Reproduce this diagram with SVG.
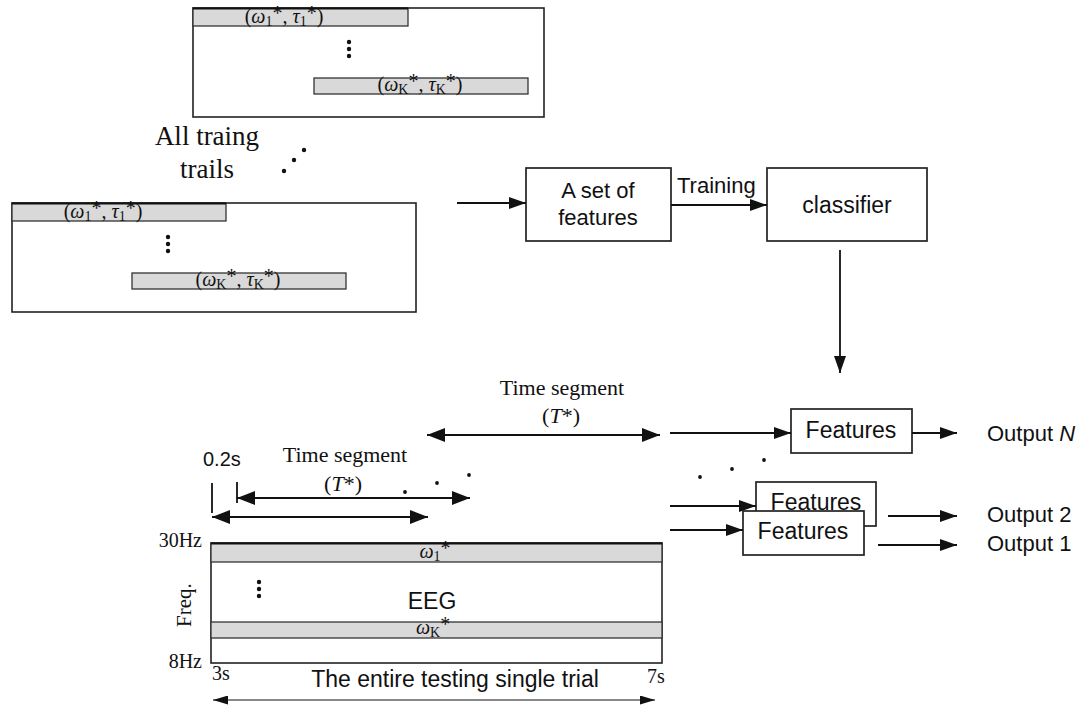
<svg xmlns="http://www.w3.org/2000/svg" width="1084" height="706" viewBox="0 0 1084 706">
<style>
.frame{fill:#fff;stroke:#222;stroke-width:1.6}
.bar{fill:#d9d9d9;stroke:#333;stroke-width:1.3}
.box{fill:#fff;stroke:#222;stroke-width:1.7}
.ln{fill:none;stroke:#111;stroke-width:1.8}
.thin{fill:none;stroke:#111;stroke-width:1.1}
.serif{font-family:"Liberation Serif","Times New Roman",serif;fill:#111}
.sans{font-family:"Liberation Sans",Arial,sans-serif;fill:#111}
.it{font-style:italic}
.sub{font-size:14px}
.dot{fill:#111}
</style>
<defs>
<marker id="ah" markerUnits="userSpaceOnUse" markerWidth="17" markerHeight="12" refX="17" refY="6" orient="auto-start-reverse">
<path d="M0,0 L17,6 L0,12 z" fill="#111"/>
</marker>
<marker id="ahb" markerUnits="userSpaceOnUse" markerWidth="18" markerHeight="14" refX="18" refY="7" orient="auto-start-reverse">
<path d="M0,0 L18,7 L0,14 z" fill="#111"/>
</marker>
<marker id="ahs" markerUnits="userSpaceOnUse" markerWidth="15" markerHeight="9" refX="15" refY="4.5" orient="auto-start-reverse">
<path d="M0,0 L15,4.5 L0,9 z" fill="#111"/>
</marker>
</defs>
<rect width="1084" height="706" fill="#fff"/>

<g id="trial-top">
<rect class="frame" x="193" y="8" width="351" height="109"/>
<rect class="bar" x="193" y="8" width="215" height="18"/>
<line x1="193" y1="8.5" x2="408" y2="8.5" stroke="#111" stroke-width="2"/>
<text class="serif" x="284" y="23" font-size="20" text-anchor="middle">(<tspan class="it">ω</tspan><tspan class="sub" dy="3">1</tspan><tspan dy="-6">*</tspan><tspan dy="3">, </tspan><tspan class="it">τ</tspan><tspan class="sub" dy="3">1</tspan><tspan dy="-6">*</tspan><tspan dy="3">)</tspan></text>
<circle class="dot" cx="349" cy="42" r="2.2"/><circle class="dot" cx="349" cy="49" r="2.2"/><circle class="dot" cx="349" cy="56" r="2.2"/>
<rect class="bar" x="314" y="78" width="214" height="16"/>
<text class="serif" x="420" y="91" font-size="20" text-anchor="middle">(<tspan class="it">ω</tspan><tspan class="sub" dy="3">K</tspan><tspan dy="-6">*</tspan><tspan dy="3">, </tspan><tspan class="it">τ</tspan><tspan class="sub" dy="3">K</tspan><tspan dy="-6">*</tspan><tspan dy="3">)</tspan></text>
</g>

<g id="all-training-label">
<text class="serif" x="207" y="145" font-size="27" text-anchor="middle">All traing</text>
<text class="serif" x="207" y="178" font-size="27" text-anchor="middle">trails</text>
<circle class="dot" cx="284" cy="171" r="2.2"/><circle class="dot" cx="294" cy="160" r="2.2"/><circle class="dot" cx="304" cy="150" r="2.2"/>
</g>

<g id="trial-bottom">
<rect class="frame" x="12" y="203" width="404" height="109"/>
<rect class="bar" x="12" y="203" width="214" height="18"/>
<line x1="12" y1="203.5" x2="226" y2="203.5" stroke="#111" stroke-width="2"/>
<text class="serif" x="103" y="218" font-size="20" text-anchor="middle">(<tspan class="it">ω</tspan><tspan class="sub" dy="3">1</tspan><tspan dy="-6">*</tspan><tspan dy="3">, </tspan><tspan class="it">τ</tspan><tspan class="sub" dy="3">1</tspan><tspan dy="-6">*</tspan><tspan dy="3">)</tspan></text>
<circle class="dot" cx="168" cy="237" r="2.2"/><circle class="dot" cx="168" cy="244" r="2.2"/><circle class="dot" cx="168" cy="251" r="2.2"/>
<rect class="bar" x="132" y="273" width="214" height="16"/>
<text class="serif" x="238" y="286" font-size="20" text-anchor="middle">(<tspan class="it">ω</tspan><tspan class="sub" dy="3">K</tspan><tspan dy="-6">*</tspan><tspan dy="3">, </tspan><tspan class="it">τ</tspan><tspan class="sub" dy="3">K</tspan><tspan dy="-6">*</tspan><tspan dy="3">)</tspan></text>
</g>

<g id="feature-set">
<rect class="box" x="526" y="168" width="145" height="73"/>
<text class="sans" x="598" y="198" font-size="22" text-anchor="middle">A set of</text>
<text class="sans" x="598" y="225" font-size="22" text-anchor="middle">features</text>
</g>

<g id="classifier">
<rect class="box" x="767" y="168" width="160" height="73"/>
<text class="sans" x="847" y="213" font-size="23" text-anchor="middle">classifier</text>
</g>

<g id="features-N">
<rect class="box" x="791" y="409" width="121" height="44"/>
<text class="sans" x="851" y="438" font-size="23" text-anchor="middle">Features</text>
</g>
<g id="features-2">
<rect class="box" x="756" y="482" width="120" height="44"/>
<text class="sans" x="816" y="510" font-size="23" text-anchor="middle">Features</text>
</g>
<g id="features-1">
<rect class="box" x="743" y="511" width="121" height="44"/>
<text class="sans" x="803" y="539" font-size="23" text-anchor="middle">Features</text>
</g>

<g id="outputs">
<text class="sans" x="987" y="441" font-size="22">Output <tspan class="it">N</tspan></text>
<text class="sans" x="987" y="522" font-size="22">Output 2</text>
<text class="sans" x="987" y="551" font-size="22">Output 1</text>
<circle class="dot" cx="700" cy="477" r="1.9"/><circle class="dot" cx="732" cy="469" r="1.9"/><circle class="dot" cx="764" cy="460" r="1.9"/>
</g>

<g id="time-segments">
<text class="serif" x="562" y="395" font-size="22" text-anchor="middle">Time segment</text>
<text class="serif" x="561" y="423" font-size="22" text-anchor="middle">(<tspan class="it">T</tspan>*)</text>
<text class="sans" x="203" y="466" font-size="20">0.2s</text>
<text class="serif" x="345" y="462" font-size="22" text-anchor="middle">Time segment</text>
<text class="serif" x="343" y="491" font-size="22" text-anchor="middle">(<tspan class="it">T</tspan>*)</text>
<line class="ln" x1="212" y1="483" x2="212" y2="513"/>
<line class="ln" x1="237" y1="482" x2="237" y2="503"/>
<circle class="dot" cx="405" cy="492" r="1.9"/><circle class="dot" cx="437" cy="483" r="1.9"/><circle class="dot" cx="469" cy="475" r="1.9"/>
</g>

<g id="eeg">
<rect class="frame" x="211" y="543" width="451" height="120"/>
<rect class="bar" x="211" y="543" width="451" height="19"/>
<line x1="211" y1="543.5" x2="662" y2="543.5" stroke="#111" stroke-width="2"/>
<rect class="bar" x="211" y="622" width="451" height="16"/>
<text class="serif" x="435" y="558" font-size="20" text-anchor="middle"><tspan class="it">ω</tspan><tspan class="sub" dy="3">1</tspan><tspan dy="-6">*</tspan></text>
<text class="serif" x="433" y="634" font-size="20" text-anchor="middle"><tspan class="it">ω</tspan><tspan class="sub" dy="3">K</tspan><tspan dy="-6">*</tspan></text>
<circle class="dot" cx="259" cy="582" r="2.2"/><circle class="dot" cx="259" cy="589" r="2.2"/><circle class="dot" cx="259" cy="596" r="2.2"/>
<text class="sans" x="432" y="609" font-size="23" text-anchor="middle">EEG</text>
<text class="serif" x="202" y="547" font-size="20" text-anchor="end">30Hz</text>
<text class="serif" x="202" y="668" font-size="20" text-anchor="end">8Hz</text>
<text class="serif" font-size="21" text-anchor="middle" transform="translate(191,605) rotate(-90)">Freq.</text>
<text class="serif" x="212" y="680" font-size="20">3s</text>
<text class="serif" x="647" y="683" font-size="20">7s</text>
<text class="sans" x="455" y="687" font-size="23" text-anchor="middle">The entire testing single trial</text>
</g>

<g id="connectors">
<line class="ln" x1="457" y1="203" x2="526" y2="203" marker-end="url(#ah)"/>
<line class="ln" x1="671" y1="205" x2="767" y2="205" marker-end="url(#ah)"/>
<text class="sans" x="677" y="193" font-size="22">Training</text>
<line class="ln" x1="840" y1="250" x2="840" y2="373" marker-end="url(#ah)"/>
<line class="ln" x1="670" y1="433" x2="791" y2="433" marker-end="url(#ah)"/>
<line class="ln" x1="912" y1="433" x2="957" y2="433" marker-end="url(#ah)"/>
<line class="ln" x1="670" y1="506" x2="756" y2="506" marker-end="url(#ah)"/>
<line class="ln" x1="670" y1="530" x2="743" y2="530" marker-end="url(#ah)"/>
<line class="ln" x1="888" y1="516" x2="957" y2="516" marker-end="url(#ah)"/>
<line class="ln" x1="878" y1="545" x2="957" y2="545" marker-end="url(#ah)"/>
<line class="ln" x1="427" y1="435" x2="660" y2="435" marker-start="url(#ahb)" marker-end="url(#ahb)"/>
<line class="ln" x1="237" y1="498" x2="470" y2="498" marker-start="url(#ahb)" marker-end="url(#ahb)"/>
<line class="ln" x1="212" y1="517" x2="428" y2="517" marker-start="url(#ahb)" marker-end="url(#ahb)"/>
<line class="thin" x1="213" y1="700" x2="655" y2="700" marker-start="url(#ahs)" marker-end="url(#ahs)"/>
</g>
</svg>
